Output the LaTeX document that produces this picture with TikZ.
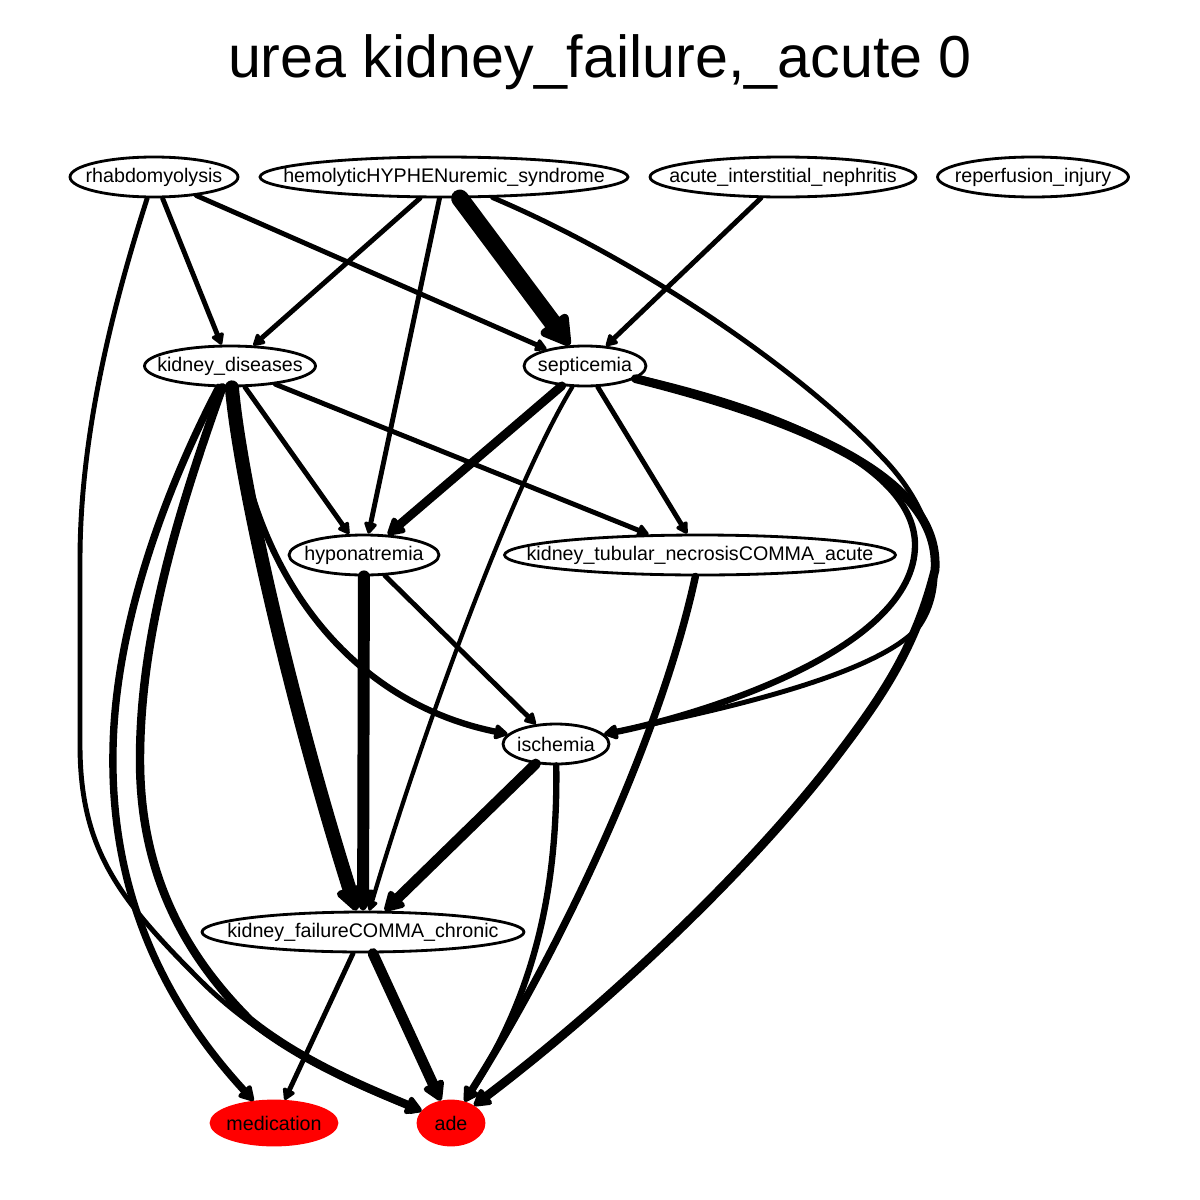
\documentclass[tikz,border=0pt]{standalone}
\usepackage{fontspec}
\setmainfont{Liberation Sans}
\usetikzlibrary{shapes.geometric, arrows.meta}
\tikzset{
  nd/.style={ellipse, draw, line width=1.6pt, inner sep=0pt, minimum height=0.8cm, font=\fontsize{11.2}{13}\selectfont},
  hit/.style={nd, fill=red, draw=red, minimum height=0.88cm},
  link/.style={line width=#1, line cap=round, -{Triangle[round, length=3pt 1.6, width=3pt 1.8]}}
}
\newcommand{\lbl}[1]{\makebox[0pt]{#1}}

\begin{document}
\begin{tikzpicture}[x=0.02cm, y=-0.02cm]
\useasboundingbox (0,0) rectangle (1200,1200);
% title
\node[font=\fontsize{33.7}{40}\selectfont] (title) at (600,62) {urea kidney\_failure,\_acute 0};

% causes on the top row
\node[nd, minimum width=3.36cm] (rhabdo) at (154,177) {\lbl{rhabdomyolysis}};
\node[nd, minimum width=7.36cm] (hemo) at (444,177) {\lbl{hemolyticHYPHENuremic\_syndrome}};
\node[nd, minimum width=5.32cm] (acute) at (783,177) {\lbl{acute\_interstitial\_nephritis}};
\node[nd, minimum width=3.82cm] (reperf) at (1033,177) {\lbl{reperfusion\_injury}};

% middle rows
\node[nd, minimum width=3.42cm] (kdis) at (230,366) {\lbl{kidney\_diseases}};
\node[nd, minimum width=2.44cm] (septic) at (585,366) {\lbl{septicemia}};
\node[nd, minimum width=3.0cm] (hypon) at (364,555) {\lbl{hyponatremia}};
\node[nd, minimum width=7.82cm] (ktn) at (700,555) {\lbl{kidney\_tubular\_necrosisCOMMA\_acute}};
\node[nd, minimum width=2.12cm] (isch) at (556,744) {\lbl{ischemia}};
\node[nd, minimum width=6.44cm] (kfc) at (363,932) {\lbl{kidney\_failureCOMMA\_chronic}};

% outcomes
\node[hit, minimum width=2.52cm] (med) at (274,1123) {\lbl{medication}};
\node[hit, minimum width=1.32cm] (ade) at (451,1123) {\lbl{ade}};

% edges out of rhabdomyolysis
\draw[link=2.8pt] (rhabdo) -- (kdis);
\draw[link=2.8pt] (rhabdo) -- (septic);
\draw[link=2.8pt] (rhabdo) .. controls (105,330) and (80,450) .. (80,560) -- (80,745) .. controls (80,850) and (120,900) .. (200,980) .. controls (260,1040) and (340,1080) .. (ade);

% edges out of hemolyticHYPHENuremic_syndrome
\draw[link=2.8pt] (hemo) -- (kdis);
\draw[link=2.8pt] (hemo) -- (hypon);
\draw[link=10pt] (hemo) -- (septic);
\draw[link=2.8pt] (hemo) .. controls (640,260) and (800,370) .. (880,455) .. controls (935,510) and (950,580) .. (920,625) .. controls (880,675) and (720,710) .. (isch);

\draw[link=2.8pt] (acute) -- (septic);

% edges out of kidney_diseases
\draw[link=2.8pt] (kdis) -- (hypon);
\draw[link=2.8pt] (kdis) -- (ktn);
\draw[link=3.6pt] (kdis) .. controls (245,560) and (340,700) .. (isch);
\draw[link=8pt] (kdis) .. controls (240,480) and (290,700) .. (kfc);
\draw[link=4.2pt] (kdis) .. controls (170,480) and (115,620) .. (113,750) .. controls (110,900) and (170,1010) .. (med);
\draw[link=4.8pt] (kdis) .. controls (175,520) and (140,640) .. (140,760) .. controls (140,880) and (190,960) .. (250,1020) .. controls (300,1060) and (360,1085) .. (ade);

% edges out of septicemia
\draw[link=5pt] (septic) -- (hypon);
\draw[link=2.8pt] (septic) -- (ktn);
\draw[link=2.4pt] (septic) .. controls (510,490) and (420,740) .. (kfc);
\draw[link=3.6pt] (septic) .. controls (820,420) and (915,480) .. (915,545) .. controls (915,650) and (700,715) .. (isch);
\draw[link=5pt] (septic) .. controls (840,430) and (940,490) .. (935,570) .. controls (915,650) and (880,700) .. (830,765) .. controls (740,880) and (600,1010) .. (ade);

% the rest
\draw[link=6.8pt] (hypon) -- (kfc);
\draw[link=2.8pt] (hypon) -- (isch);
\draw[link=4.2pt] (ktn) .. controls (660,740) and (560,950) .. (ade);
\draw[link=6pt] (isch) -- (kfc);
\draw[link=3.6pt] (isch) .. controls (558,900) and (530,1000) .. (ade);
\draw[link=2.8pt] (kfc) -- (med);
\draw[link=6pt] (kfc) -- (ade);

\end{tikzpicture}
\end{document}
